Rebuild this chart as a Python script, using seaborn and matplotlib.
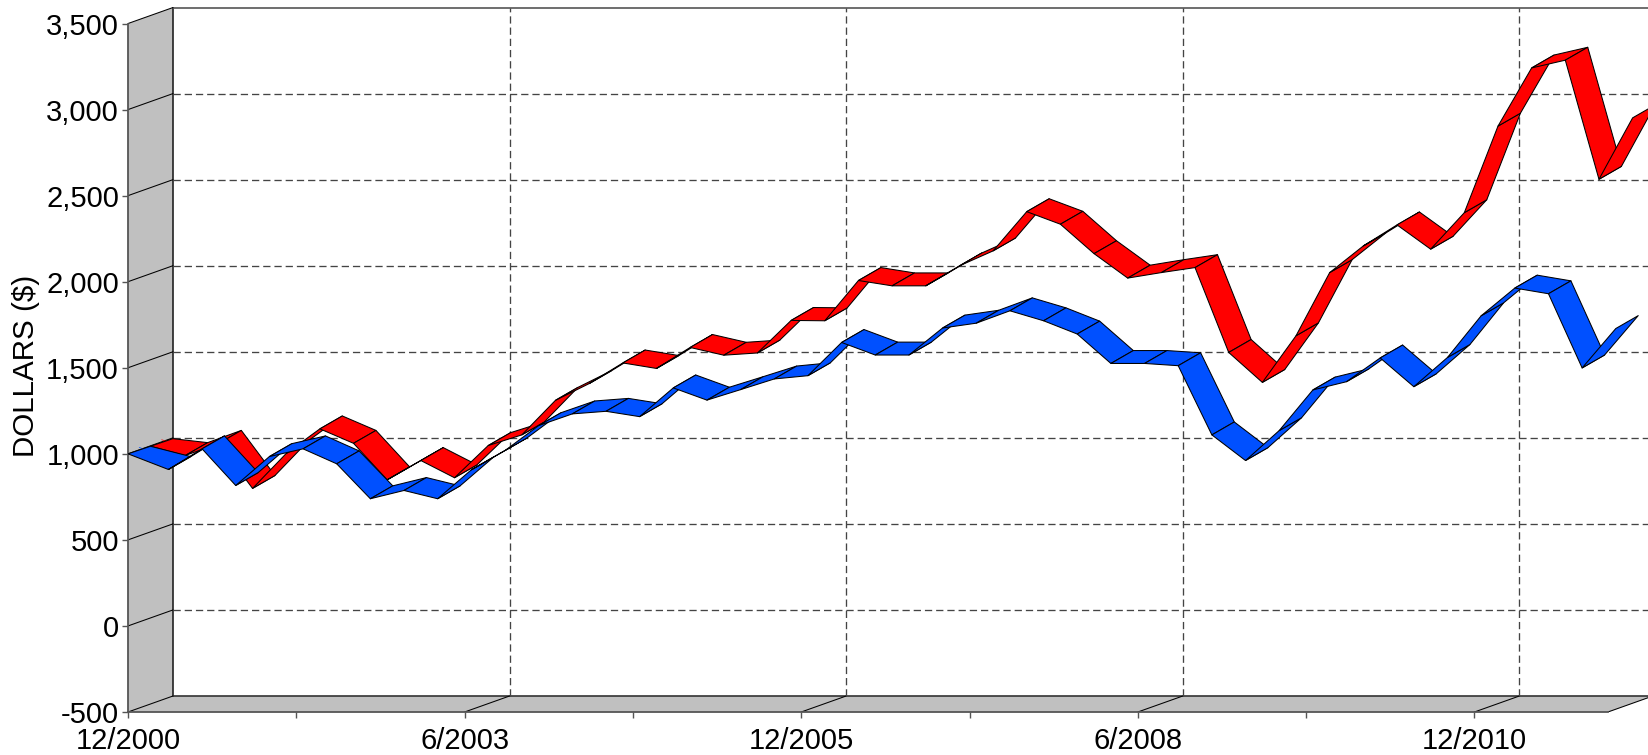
import pandas as pd
import matplotlib.pyplot as plt
import seaborn as sns

# months after 12/2000 for each point (the first one sits on the wall)
months = [0, 3.6, 6.6, 9.6, 12.6, 15.6, 18.6, 21.6, 24.6, 27.6, 30.6, 33.6, 36.6, 39.6, 42.6,
          45.6, 48.6, 51.6, 54.6, 57.6, 60.6, 63.6, 66.6, 69.6, 72.6, 75.6, 78.6, 81.6, 84.6, 87.6,
          90.6, 93.6, 96.6, 99.6, 102.6, 105.6, 108.6, 111.6, 114.6, 117.6, 120.6, 123.6, 126.6, 129.6, 132.6]

blue_values = [1000, 909, 1029, 816, 984, 1029, 942, 739, 787, 739, 907, 1019, 1164, 1232, 1247,
               1216, 1383, 1312, 1373, 1435, 1454, 1647, 1574, 1574, 1731, 1759, 1831, 1773, 1696, 1525,
               1525, 1512, 1110, 961, 1135, 1371, 1419, 1557, 1390, 1560, 1802, 1963, 1930, 1499, 1728]

red_values = [1000, 946, 1017, 755, 958, 1101, 1017, 805, 917, 817, 1004, 1066, 1267, 1364, 1484,
              1452, 1574, 1529, 1542, 1731, 1729, 1963, 1932, 1932, 2048, 2135, 2363, 2290, 2119, 1977,
              2009, 2038, 1545, 1371, 1642, 2009, 2164, 2286, 2145, 2357, 2860, 3198, 3243, 2551, 2908]

y_ticks = [-500, 0, 500, 1000, 1500, 2000, 2500, 3000, 3500]
major_months = [0, 30, 60, 90, 120]
minor_months = [15, 45, 75, 105]
major_labels = ["12/2000", "6/2003", "12/2005", "6/2008", "12/2010"]

BLUE = "#0050FF"
RED = "#FF0000"
WALL = "#C0C0C0"
DASH = (0, (5.5, 3))

# fake 3d depth, in data units (months, dollars)
WALL_DX, WALL_DY = 4.01, 93
RIBBON_DX, RIBBON_DY = 2.0, 75
FIRST_DY = 44
RED_SHIFT_X, RED_SHIFT_Y = 1.5, 44
XMAX, YMAX, YMIN = 135.47, 3636.7, -500
FRONT_END = 131.9


def draw_ribbon(ax, xs, ys, color, zorder):
    # one parallelogram per segment, left to right so later ones cover earlier ones
    for i in range(len(xs) - 1):
        dy0 = FIRST_DY if i == 0 else RIBBON_DY
        px = [xs[i], xs[i + 1], xs[i + 1] + RIBBON_DX, xs[i] + RIBBON_DX]
        py = [ys[i], ys[i + 1], ys[i + 1] + RIBBON_DY, ys[i] + dy0]
        ax.fill(px, py, facecolor=color, edgecolor="black", linewidth=0.75,
                joinstyle="round", zorder=zorder + i * 0.001)


def draw_box(ax):
    ax.fill([0, WALL_DX, WALL_DX, 0],
            [YMIN, YMIN + WALL_DY, 3500 + WALL_DY, 3500], color=WALL, lw=0, zorder=1)
    ax.fill([0, WALL_DX, FRONT_END + WALL_DX, FRONT_END],
            [YMIN, YMIN + WALL_DY, YMIN + WALL_DY, YMIN], color=WALL, lw=0, zorder=1)

    ax.plot([WALL_DX, WALL_DX], [YMIN + WALL_DY, 3500 + WALL_DY], color="#222222", lw=1.2, zorder=2)
    ax.plot([WALL_DX, XMAX], [YMIN + WALL_DY, YMIN + WALL_DY], color="#333333", lw=1.2, zorder=2)
    ax.plot([WALL_DX, XMAX], [3500 + WALL_DY, 3500 + WALL_DY], color="#555555", lw=1.2, zorder=2)
    ax.plot([FRONT_END, FRONT_END + WALL_DX], [YMIN, YMIN + WALL_DY], color="black", lw=0.75, zorder=2)

    for v in y_ticks:
        ax.plot([0, WALL_DX], [v, v + WALL_DY], color="black", lw=0.75, zorder=2)
        if -500 < v < 3500:
            ax.plot([WALL_DX, XMAX], [v + WALL_DY, v + WALL_DY], color="#444444", lw=0.95,
                    linestyle=DASH, zorder=2)

    for m in major_months[1:]:
        ax.plot([m, m + WALL_DX], [YMIN, YMIN + WALL_DY], color="black", lw=0.75, zorder=2)
        ax.plot([m + WALL_DX, m + WALL_DX], [YMIN + WALL_DY, 3500 + WALL_DY], color="#444444", lw=0.95,
                linestyle=DASH, zorder=2)


def main():
    sns.set_style("white")
    plt.rcParams["font.family"] = ["Liberation Sans", "DejaVu Sans"]

    fig = plt.figure(figsize=(16.48, 7.55), dpi=100)
    ax = fig.add_axes([128 / 1648, 43 / 755, 1520 / 1648, 712 / 755])
    ax.set_xlim(0, XMAX)
    ax.set_ylim(YMIN, YMAX)
    ax.patch.set_alpha(0)

    draw_box(ax)

    red_x = [2.0] + [m + RED_SHIFT_X for m in months[1:]]
    red_y = [v + RED_SHIFT_Y for v in red_values]

    # series centre lines, the ribbons go over them
    df = pd.concat([
        pd.DataFrame({"x": [m + RIBBON_DX / 2 for m in red_x],
                      "y": [v + RIBBON_DY / 2 for v in red_y], "series": "red"}),
        pd.DataFrame({"x": [m + RIBBON_DX / 2 for m in months],
                      "y": [v + RIBBON_DY / 2 for v in blue_values], "series": "blue"}),
    ])
    sns.lineplot(data=df, x="x", y="y", hue="series", palette={"red": RED, "blue": BLUE},
                 legend=False, errorbar=None, linewidth=0.5, zorder=3, ax=ax)

    draw_ribbon(ax, red_x, red_y, RED, 4)
    draw_ribbon(ax, months, blue_values, BLUE, 5)

    ax.set_xlabel("")
    ax.set_ylabel("")
    ax.text(26 / 1648, (755 - 366) / 755, "DOLLARS ($)", rotation=90, fontsize=21.3,
            ha="center", va="center", color="black", transform=fig.transFigure)

    for name in ["top", "right"]:
        ax.spines[name].set_visible(False)
    for name in ["left", "bottom"]:
        ax.spines[name].set_color("#555555")
        ax.spines[name].set_linewidth(1.3)
    ax.spines["left"].set_bounds(-500, 3500)
    ax.spines["bottom"].set_bounds(0, FRONT_END)
    ax.spines["left"].set_zorder(2)

    ax.set_yticks(y_ticks)
    ax.set_yticklabels([f"{v:,}" for v in y_ticks])
    ax.set_xticks(major_months)
    ax.set_xticklabels(major_labels)
    ax.set_xticks(minor_months, minor=True)
    ax.tick_params(axis="both", which="both", length=4, width=1, color="#555555",
                   direction="out", left=True, bottom=True, labelsize=21, labelcolor="black")
    ax.tick_params(axis="y", pad=2.5)
    ax.tick_params(axis="x", pad=7)

    fig.savefig("out.png", dpi=100)
    plt.close(fig)


if __name__ == "__main__":
    main()
